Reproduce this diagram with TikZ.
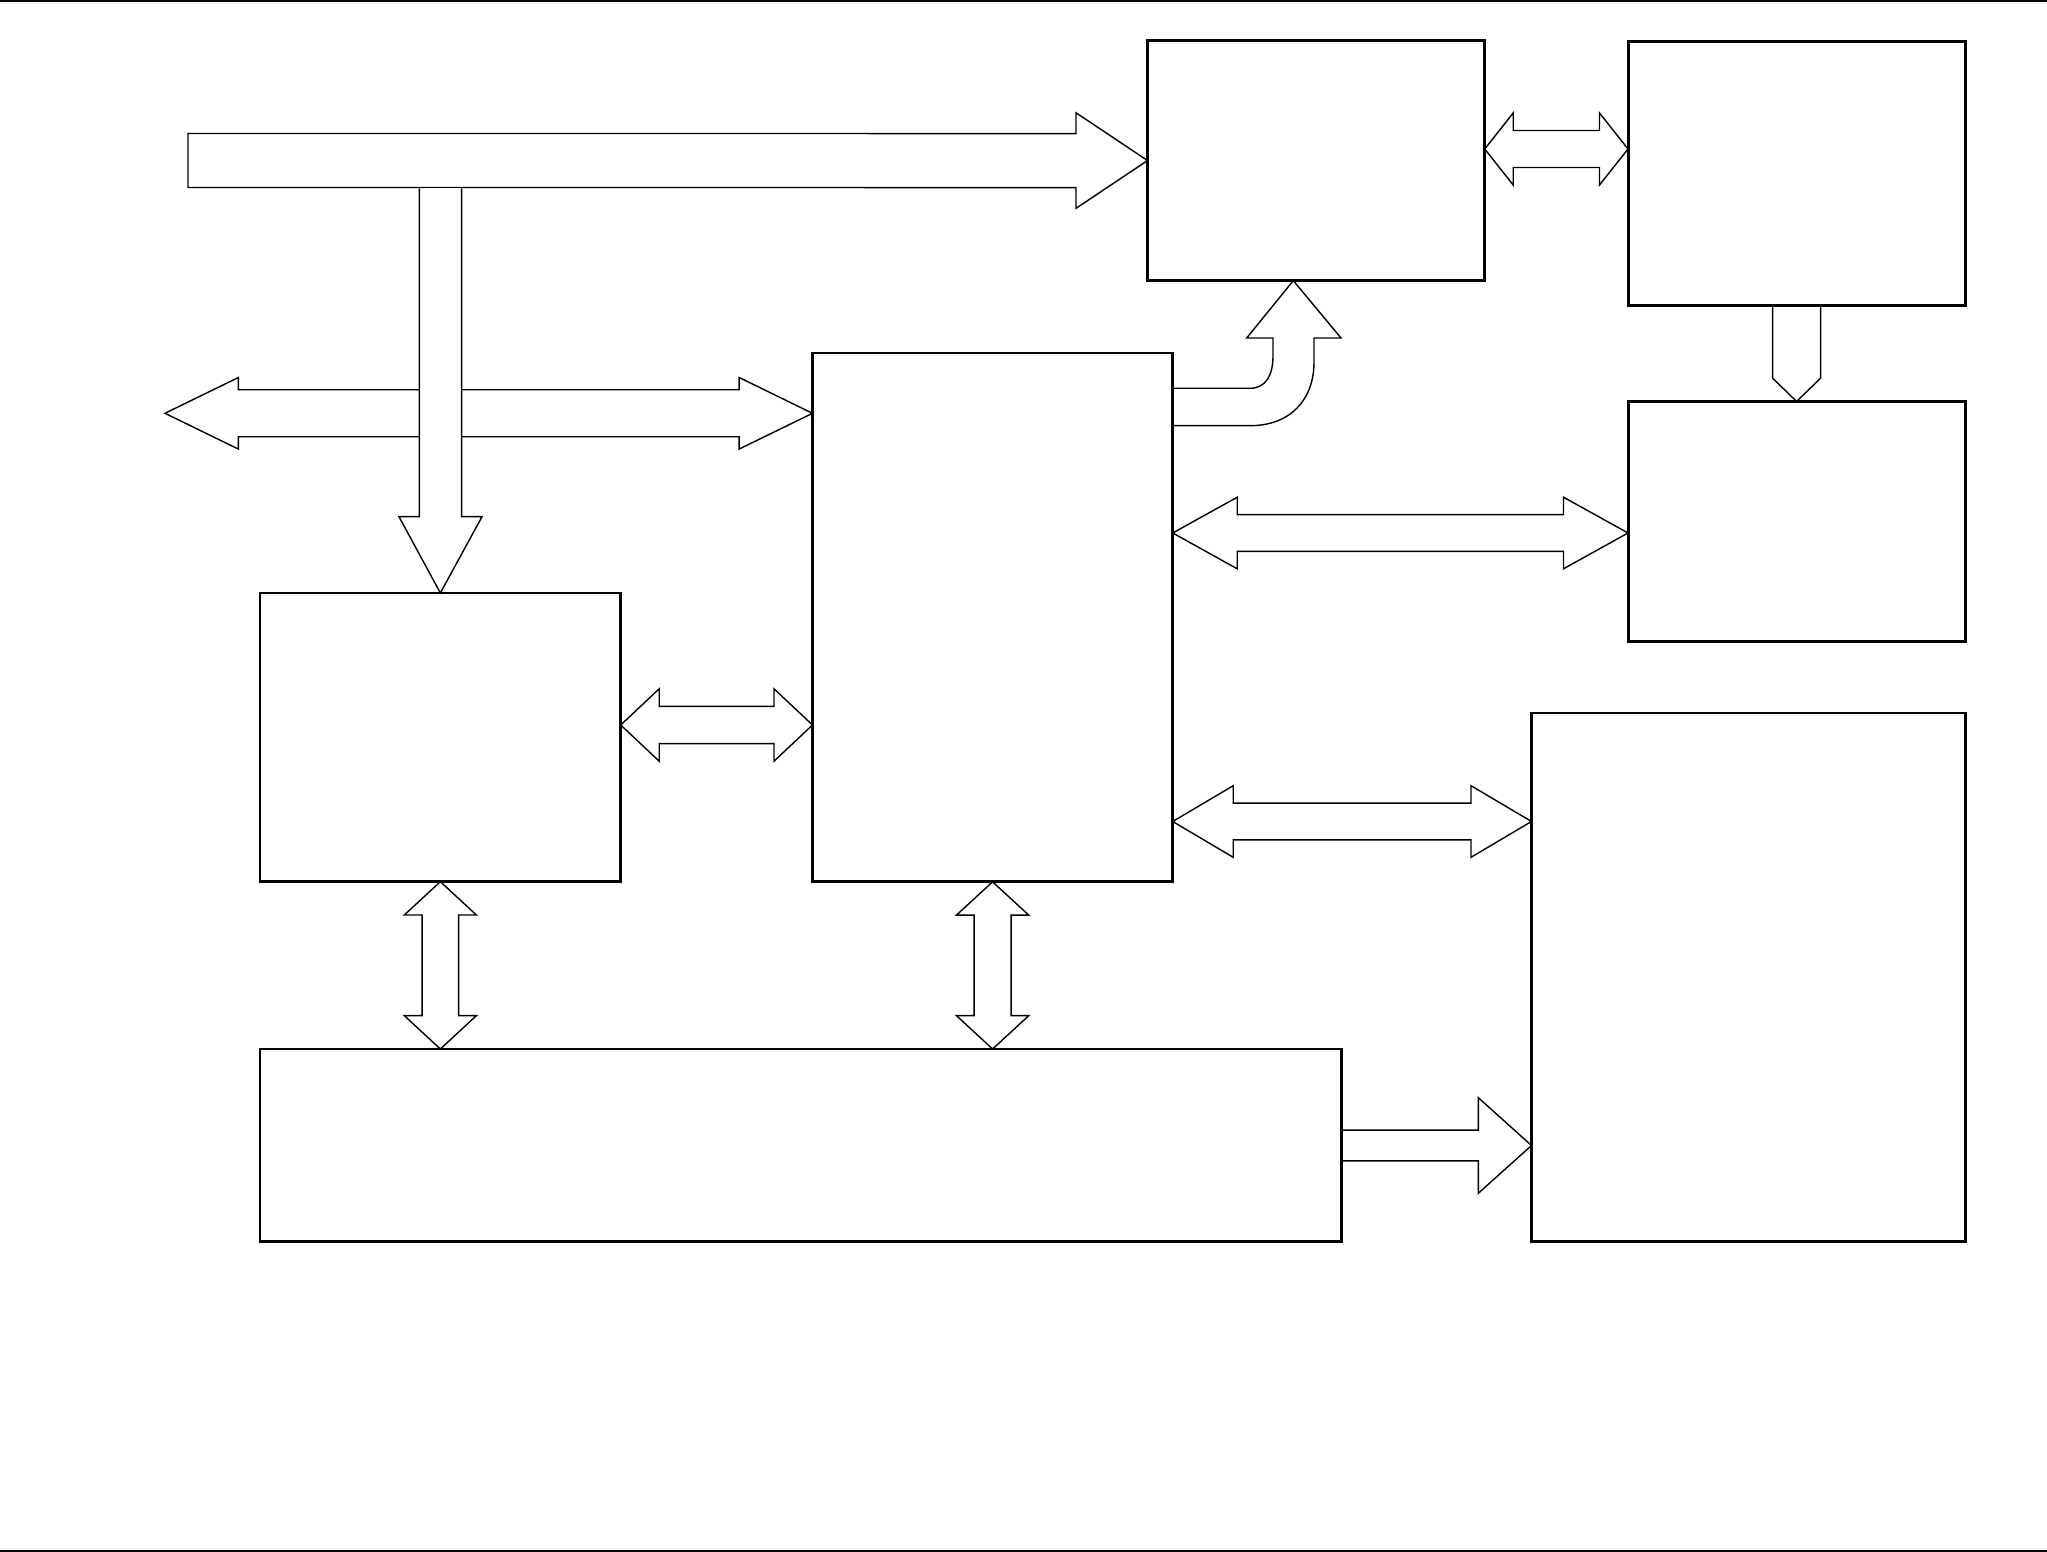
\documentclass[tikz,border=0pt]{standalone}
\usetikzlibrary{calc}
\tikzset{
  blk/.style={draw, line width=0.85pt, inner sep=0pt, outer sep=0pt, anchor=north west, fill=white},
  blkline/.style={line width=0.85pt},
  arr/.style={draw, line width=0.4pt, fill=white, line join=miter},
  rulebar/.style={line width=0.6pt}
}
% #1 left tip, #2 right tip, #3 head length, #4 head half width, #5 shaft half width
\newcommand\hdblarrow[5]{\draw[arr] (#1) -- ($(#1)+(#3,-#4)$) -- ($(#1)+(#3,-#5)$) -- ($(#2)+(-#3,-#5)$) -- ($(#2)+(-#3,-#4)$) -- (#2) -- ($(#2)+(-#3,#4)$) -- ($(#2)+(-#3,#5)$) -- ($(#1)+(#3,#5)$) -- ($(#1)+(#3,#4)$) -- cycle;}
% #1 top tip, #2 bottom tip
\newcommand\vdblarrow[5]{\draw[arr] (#1) -- ($(#1)+(-#4,#3)$) -- ($(#1)+(-#5,#3)$) -- ($(#2)+(-#5,-#3)$) -- ($(#2)+(-#4,-#3)$) -- (#2) -- ($(#2)+(#4,-#3)$) -- ($(#2)+(#5,-#3)$) -- ($(#1)+(#5,#3)$) -- ($(#1)+(#4,#3)$) -- cycle;}
% #1 tail centre, #2 tip
\newcommand\hsnglarrow[5]{\draw[arr] ($(#1)+(0,-#5)$) -- ($(#2)+(-#3,-#5)$) -- ($(#2)+(-#3,-#4)$) -- (#2) -- ($(#2)+(-#3,#4)$) -- ($(#2)+(-#3,#5)$) -- ($(#1)+(0,#5)$) -- cycle;}
\begin{document}
\begin{tikzpicture}[x=0.01cm, y=-0.01cm]
\useasboundingbox (0,0) rectangle (2047,1552);
\fill[white] (0,0) rectangle (2047,1552);
\draw[rulebar] (0,0.9) -- (2047,0.9);
\draw[rulebar] (0,1550.6) -- (2047,1550.6);

% boxes
\node[blk, minimum width=3.37cm, minimum height=2.40cm] (A) at (1147.5,40.5) {};
\node[blk, minimum width=3.37cm, minimum height=2.635cm] (B) at (1628,41.5) {};
\node[blk, minimum width=3.37cm, minimum height=2.40cm] (C) at (1628,401.5) {};
\node[blk, minimum width=3.60cm, minimum height=5.285cm] (D) at (812.5,353) {};
\node[blk, minimum width=3.605cm, minimum height=2.885cm] (E) at (260,593) {};
\node[blk, minimum width=10.807cm, minimum height=1.92cm] (F) at (260,1049) {};
\node[blk, minimum width=4.335cm, minimum height=5.28cm] (G) at (1531.5,713) {};

% left double arrow to D
\coordinate (lt) at (165,413.3);
\coordinate (rt) at ($(D.north west)+(0,60.3)$);
\hdblarrow{lt}{rt}{73.4}{35.8}{23.5}

% main input arrow to A
\coordinate (intail) at (188,160.5);
\hsnglarrow{intail}{A.west}{71.5}{47.8}{27}

% branch down to E
\draw[arr] (419.3,188.4) -- (419.3,516.7) -- (399,516.7) -- (E.north) -- (482,516.7) -- (461.7,516.7) -- (461.7,188.4);

% A <-> B
\coordinate (ab1) at ($(A.north east)+(0,108.5)$);
\coordinate (ab2) at ($(B.north west)+(0,107.5)$);
\hdblarrow{ab1}{ab2}{28.5}{36}{18.5}

% B -> C
\draw[arr] ($(B.south)+(-24,0)$) -- ($(B.south)+(-24,73)$) -- (C.north) -- ($(B.south)+(24,73)$) -- ($(B.south)+(24,0)$) -- cycle;

% D -> A curved
\coordinate (ca) at ($(A.south west)+(145.8,0)$);
\coordinate (cu) at ($(D.north east)+(0,35.3)$);
\coordinate (cl) at ($(D.north east)+(0,72.7)$);
\draw[arr] (cu) -- (1250,388.3) .. controls (1266,388.3) and (1273,375) .. (1273,356) -- (1273,338) -- (1246.7,338) -- (ca) -- (1341,338) -- (1314,338) -- (1314,362) .. controls (1314,400) and (1290,425.7) .. (1250,425.7) -- (cl) -- cycle;

% D <-> C
\coordinate (dc1) at ($(D.north east)+(0,180)$);
\coordinate (dc2) at ($(C.north west)+(0,131.5)$);
\hdblarrow{dc1}{dc2}{64.5}{35.8}{18.4}

% E <-> D
\coordinate (ed1) at ($(E.north east)+(0,132)$);
\coordinate (ed2) at ($(D.north west)+(0,372)$);
\hdblarrow{ed1}{ed2}{38.5}{36.2}{18.7}

% D <-> G
\coordinate (dg1) at ($(D.north east)+(0,468.5)$);
\coordinate (dg2) at ($(G.north west)+(0,108.5)$);
\hdblarrow{dg1}{dg2}{60.5}{35.8}{18.3}

% E <-> F
\coordinate (ef2) at (E.south |- F.north);
\vdblarrow{E.south}{ef2}{33.3}{36}{18.3}

% D <-> F
\coordinate (df2) at (D.south |- F.north);
\vdblarrow{D.south}{df2}{33.3}{36.1}{18.5}

% F -> G
\coordinate (fg1) at ($(F.north east)+(0,96.5)$);
\coordinate (fg2) at ($(G.north west)+(0,432.5)$);
\hsnglarrow{fg1}{fg2}{53.2}{47.8}{15.35}

% redraw box outlines on top
\foreach \n in {A,B,C,D,E,F,G} \draw[blkline] (\n.south west) rectangle (\n.north east);
\end{tikzpicture}
\end{document}
